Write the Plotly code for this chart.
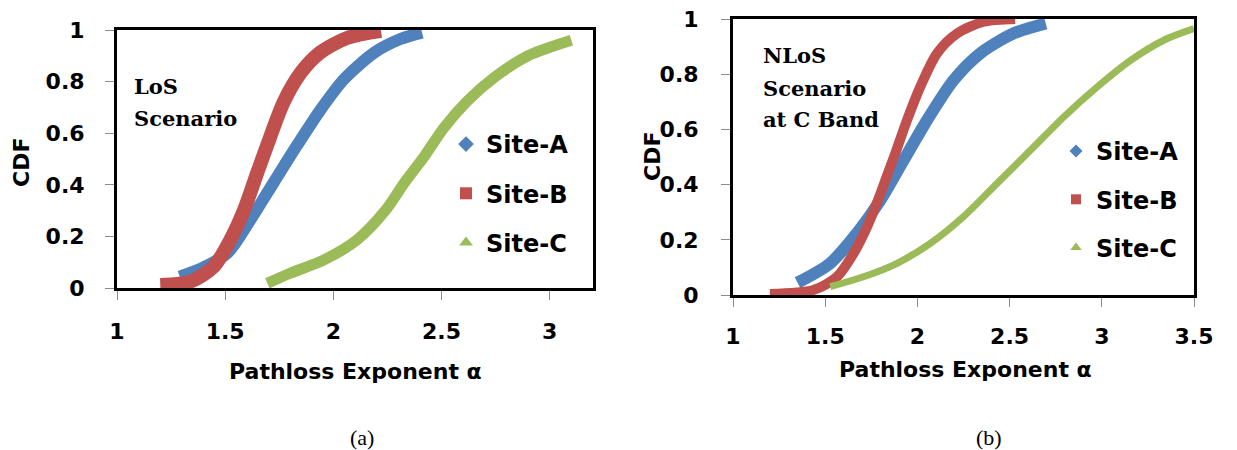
import plotly.graph_objects as go

# ---------------- data ----------------
# (a) LoS scenario
los_a_x = [1.29, 1.40, 1.51, 1.617, 1.725, 1.83, 1.94, 2.05, 2.19, 2.31, 2.41]
los_a_y = [0.044, 0.08, 0.135, 0.265, 0.41, 0.55, 0.69, 0.81, 0.913, 0.965, 0.99]
los_b_x = [1.20, 1.34, 1.447, 1.524, 1.586, 1.648, 1.71, 1.77, 1.85, 1.94, 2.066, 2.22]
los_b_y = [0.012, 0.025, 0.083, 0.187, 0.30, 0.446, 0.59, 0.72, 0.835, 0.913, 0.97, 0.997]
los_c_x = [1.695, 1.80, 1.957, 2.11, 2.24, 2.33, 2.42, 2.51, 2.62, 2.75, 2.90, 3.10]
los_c_y = [0.018, 0.057, 0.109, 0.187, 0.30, 0.41, 0.51, 0.62, 0.725, 0.82, 0.90, 0.96]

# (b) NLoS scenario at C band
nlos_a_x = [1.35, 1.527, 1.672, 1.80, 1.926, 2.053, 2.197, 2.342, 2.523, 2.696]
nlos_a_y = [0.045, 0.115, 0.224, 0.344, 0.489, 0.634, 0.779, 0.876, 0.948, 0.984]
nlos_b_x = [1.20, 1.436, 1.564, 1.654, 1.727, 1.80, 1.853, 1.88, 1.944, 2.016, 2.107, 2.216, 2.36, 2.53]
nlos_b_y = [0.004, 0.018, 0.066, 0.151, 0.247, 0.368, 0.465, 0.513, 0.634, 0.755, 0.876, 0.948, 0.99, 1.0]
nlos_c_x = [1.527, 1.708, 1.89, 2.07, 2.25, 2.433, 2.614, 2.795, 2.977, 3.158, 3.339, 3.50]
nlos_c_y = [0.03, 0.066, 0.115, 0.187, 0.284, 0.405, 0.525, 0.646, 0.755, 0.851, 0.924, 0.965]

series_names = ["Site-A", "Site-B", "Site-C"]
x_ticks_a = [1, 1.5, 2, 2.5, 3]
x_ticks_b = [1, 1.5, 2, 2.5, 3, 3.5]
y_ticks = [0, 0.2, 0.4, 0.6, 0.8, 1]
y_tick_text = ["0", "0.2", "0.4", "0.6", "0.8", "1"]

# ---------------- styling ----------------
W, H = 1237, 450
BLUE, RED, GREEN = "#4F81BD", "#C0504D", "#9BBB59"
colors = [BLUE, RED, GREEN]
symbols = ["diamond", "square", "triangle-up"]
SANS = "DejaVu Sans"
SERIF = "DejaVu Serif"

def px_x(p):
    return p / W

def px_y(p):
    return 1 - p / H

fig = go.Figure()

left = [(los_a_x, los_a_y, 12), (los_b_x, los_b_y, 14), (los_c_x, los_c_y, 11)]
right = [(nlos_a_x, nlos_a_y, 12), (nlos_b_x, nlos_b_y, 10), (nlos_c_x, nlos_c_y, 7)]

for i, (xs, ys, w) in enumerate(left):
    fig.add_trace(go.Scatter(x=xs, y=ys, mode="lines",
                             line=dict(color=colors[i], width=w, shape="spline", smoothing=0.8),
                             xaxis="x", yaxis="y", showlegend=False, hoverinfo="skip"))
for i, (xs, ys, w) in enumerate(right):
    fig.add_trace(go.Scatter(x=xs, y=ys, mode="lines",
                             line=dict(color=colors[i], width=w, shape="spline", smoothing=0.8),
                             xaxis="x2", yaxis="y2", showlegend=False, hoverinfo="skip"))

# legend entries
for i, name in enumerate(series_names):
    fig.add_trace(go.Scatter(x=[None], y=[None], mode="markers", name=name,
                             marker=dict(color=colors[i], symbol=symbols[i], size=12),
                             xaxis="x", yaxis="y", legend="legend", legendgroup="a" + str(i)))
    fig.add_trace(go.Scatter(x=[None], y=[None], mode="markers", name=name,
                             marker=dict(color=colors[i], symbol=symbols[i], size=10),
                             xaxis="x2", yaxis="y2", legend="legend2", legendgroup="b" + str(i)))

tickfont = dict(family=SANS, size=22, color="black", weight="bold")
axis_common = dict(showline=True, linecolor="black", linewidth=3, mirror=True, showgrid=False,
                   zeroline=False, ticks="outside", ticklen=9, tickwidth=1, tickcolor="#8c8c8c",
                   tickfont=tickfont, automargin=False)

fig.update_layout(
    width=W, height=H, autosize=False,
    margin=dict(l=0, r=0, t=0, b=0, pad=0, autoexpand=False),
    paper_bgcolor="white", plot_bgcolor="white",
    xaxis=dict(domain=[px_x(117), px_x(593)], range=[1, 3.2], tickvals=x_ticks_a,
               ticklabelstandoff=13, anchor="y", **axis_common),
    yaxis=dict(domain=[px_y(288), px_y(30)], range=[0, 1], tickvals=y_ticks, ticktext=y_tick_text,
               ticklabelstandoff=16, anchor="x", **axis_common),
    xaxis2=dict(domain=[px_x(733), px_x(1194)], range=[1, 3.5], tickvals=x_ticks_b,
                ticklabelstandoff=11, anchor="y2", **axis_common),
    yaxis2=dict(domain=[px_y(295), px_y(19)], range=[0, 1], tickvals=y_ticks, ticktext=y_tick_text,
                ticklabelstandoff=18, anchor="x2", **axis_common),
    legend=dict(x=px_x(446), y=px_y(122), xanchor="left", yanchor="top", bgcolor="rgba(0,0,0,0)",
                font=dict(family=SANS, size=24, color="black", weight="bold"),
                tracegroupgap=15, traceorder="grouped", itemsizing="trace"),
    legend2=dict(x=px_x(1056), y=px_y(129), xanchor="left", yanchor="top", bgcolor="rgba(0,0,0,0)",
                 font=dict(family=SANS, size=24, color="black", weight="bold"),
                 tracegroupgap=14, traceorder="grouped", itemsizing="trace"),
)

ann_font = dict(family=SANS, size=22, color="black", weight="bold")
serif_font = dict(family=SERIF, size=21, color="black", weight="bold")
annotations = [
    dict(text="CDF", x=px_x(21), y=px_y(163), textangle=-90, font=ann_font),
    dict(text="CDF", x=px_x(652), y=px_y(157), textangle=-90, font=ann_font),
    dict(text="Pathloss Exponent α", x=px_x(355), y=px_y(371), font=ann_font),
    dict(text="Pathloss Exponent α", x=px_x(965), y=px_y(369), font=ann_font),
    dict(text="(a)", x=px_x(362), y=px_y(437), font=dict(family="Liberation Serif", size=22, color="black")),
    dict(text="(b)", x=px_x(989), y=px_y(437), font=dict(family="Liberation Serif", size=22, color="black")),
    dict(text="LoS", x=px_x(132), y=px_y(86), xanchor="left", font=serif_font),
    dict(text="Scenario", x=px_x(132), y=px_y(118), xanchor="left", font=serif_font),
    dict(text="NLoS", x=px_x(761), y=px_y(55), xanchor="left", font=serif_font),
    dict(text="Scenario", x=px_x(761), y=px_y(88), xanchor="left", font=serif_font),
    dict(text="at C Band", x=px_x(761), y=px_y(119), xanchor="left", font=serif_font),
]
for a in annotations:
    a.setdefault("xanchor", "center")
    a.setdefault("yanchor", "middle")
    a.update(xref="paper", yref="paper", showarrow=False)
fig.update_layout(annotations=annotations)

fig.write_html("out.html")
